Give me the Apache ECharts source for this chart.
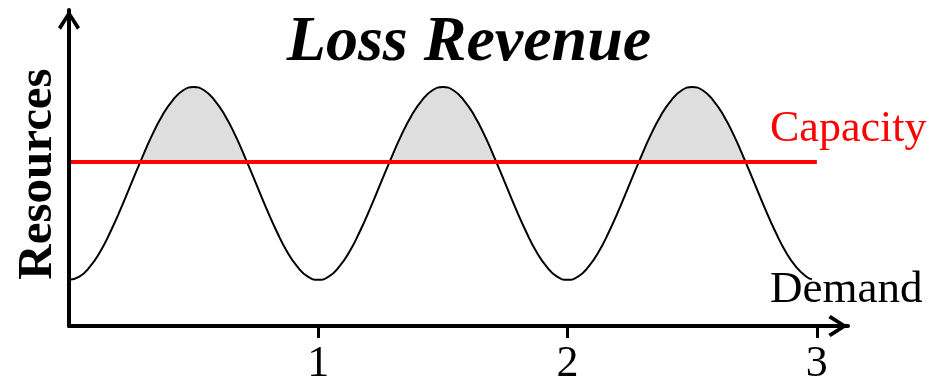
<!DOCTYPE html>
<html>
<head>
<meta charset="utf-8">
<script src="https://cdn.jsdelivr.net/npm/echarts@6/dist/echarts.min.js"></script>
<style>
  html, body { margin: 0; padding: 0; background: #fff; }
  #main { width: 948px; height: 387px; }
</style>
</head>
<body>
<div id="main"></div>
<script>
// demand curve (x in periods, y in resource units 0..10)
const demandX = [
  0, 0.0417, 0.0833, 0.125, 0.1667, 0.2083, 0.25, 0.2917, 0.3333, 0.375, 0.4167, 0.4583,
  0.5, 0.5417, 0.5833, 0.625, 0.6667, 0.7083, 0.75, 0.7917, 0.8333, 0.875, 0.9167, 0.9583,
  1, 1.0417, 1.0833, 1.125, 1.1667, 1.2083, 1.25, 1.2917, 1.3333, 1.375, 1.4167, 1.4583,
  1.5, 1.5417, 1.5833, 1.625, 1.6667, 1.7083, 1.75, 1.7917, 1.8333, 1.875, 1.9167, 1.9583,
  2, 2.0417, 2.0833, 2.125, 2.1667, 2.2083, 2.25, 2.2917, 2.3333, 2.375, 2.4167, 2.4583,
  2.5, 2.5417, 2.5833, 2.625, 2.6667, 2.7083, 2.75, 2.7917, 2.8333, 2.875, 2.9167, 2.9583,
  2.98
];
const demandY = [
  1.46, 1.56, 1.87, 2.35, 2.99, 3.72, 4.51, 5.30, 6.04, 6.67, 7.15, 7.46,
  7.56, 7.46, 7.15, 6.67, 6.04, 5.30, 4.51, 3.72, 2.99, 2.35, 1.87, 1.56,
  1.46, 1.56, 1.87, 2.35, 2.99, 3.72, 4.51, 5.30, 6.04, 6.67, 7.15, 7.46,
  7.56, 7.46, 7.15, 6.67, 6.04, 5.30, 4.51, 3.72, 2.99, 2.35, 1.87, 1.56,
  1.46, 1.56, 1.87, 2.35, 2.99, 3.72, 4.51, 5.30, 6.04, 6.67, 7.15, 7.46,
  7.56, 7.46, 7.15, 6.67, 6.04, 5.30, 4.51, 3.72, 2.99, 2.35, 1.87, 1.56,
  1.48
];
const capacityX = [0, 3];
const capacityY = [5.19, 5.19];
const xTicks = [1, 2, 3];

const serif = "Liberation Serif";
const pair = (xs, ys) => xs.map((x, i) => [x, ys[i]]);
const demand = pair(demandX, demandY);
const capacity = pair(capacityX, capacityY);

// open chevron used as axis arrow head
const chevron = "path://M11,0 L22,17 L19,19.5 L11,6.5 L3,19.5 L0,17 Z";

const myChart = echarts.init(document.getElementById("main"));

const option = {
  animation: false,
  backgroundColor: "#fff",
  grid: {
    left: 69,
    right: 100,
    top: 10,
    bottom: 61,
  },
  xAxis: {
    type: "value",
    min: 0,
    max: 3.125,
    z: 10,
    splitLine: { show: false },
    axisLine: {
      show: true,
      onZero: false,
      symbol: ["none", chevron],
      symbolSize: [22, 20],
      symbolOffset: [0, -10],
      lineStyle: { color: "#000", width: 4 },
    },
    axisTick: {
      show: true,
      customValues: xTicks,
      length: 12,
      lineStyle: { color: "#000", width: 3 },
    },
    axisLabel: {
      show: true,
      customValues: xTicks,
      margin: 16,
      color: "#000",
      fontFamily: serif,
      fontSize: 44,
      lineHeight: 44,
    },
  },
  yAxis: {
    type: "value",
    min: 0,
    max: 10,
    z: 10,
    splitLine: { show: false },
    axisTick: { show: false },
    axisLabel: { show: false },
    axisLine: {
      show: true,
      onZero: false,
      symbol: ["none", chevron],
      symbolSize: [22, 20],
      symbolOffset: [0, -10],
      lineStyle: { color: "#000", width: 4 },
    },
  },
  series: [
    {
      // gray band between demand and capacity
      name: "excess",
      type: "line",
      data: demand,
      smooth: true,
      showSymbol: false,
      z: 1,
      lineStyle: { width: 0 },
      areaStyle: { color: "#dedede", opacity: 1, origin: capacityY[0] },
    },
    {
      // white block under capacity hides the band where demand is lower
      name: "cover",
      type: "line",
      data: capacity,
      showSymbol: false,
      z: 2,
      lineStyle: { width: 0 },
      areaStyle: { color: "#fff", opacity: 1, origin: "start" },
    },
    {
      name: "Demand",
      type: "line",
      data: demand,
      smooth: true,
      showSymbol: false,
      z: 3,
      lineStyle: { color: "#000", width: 2 },
    },
    {
      name: "Capacity",
      type: "line",
      data: capacity,
      showSymbol: false,
      z: 4,
      lineStyle: { color: "#ff0000", width: 4 },
    },
  ],
  graphic: [
    {
      type: "text",
      z: 100,
      x: 469,
      y: 43,
      style: {
        text: "Loss Revenue",
        font: "italic bold 64px 'Liberation Serif'",
        fill: "#000",
        align: "center",
        verticalAlign: "middle",
      },
    },
    {
      type: "text",
      z: 100,
      x: 38,
      y: 174,
      rotation: Math.PI / 2,
      style: {
        text: "Resources",
        font: "bold 49px 'Liberation Serif'",
        fill: "#000",
        align: "center",
        verticalAlign: "middle",
      },
    },
    {
      type: "text",
      z: 100,
      x: 770,
      y: 129,
      style: {
        text: "Capacity",
        font: "44px 'Liberation Serif'",
        fill: "#ff0000",
        align: "left",
        verticalAlign: "middle",
      },
    },
    {
      type: "text",
      z: 100,
      x: 770,
      y: 290,
      style: {
        text: "Demand",
        font: "45px 'Liberation Serif'",
        fill: "#000",
        align: "left",
        verticalAlign: "middle",
      },
    },
  ],
};

myChart.setOption(option);
window.addEventListener("resize", () => {
  myChart.resize();
});
</script>
</body>
</html>
